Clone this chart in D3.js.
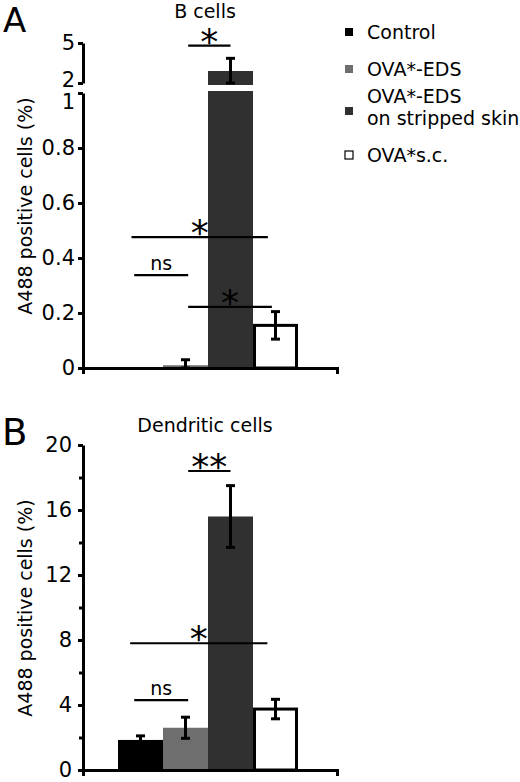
<!DOCTYPE html>
<html>
<head>
<meta charset="utf-8">
<script src="https://cdn.jsdelivr.net/npm/d3@7"></script>
<style>
  body { margin: 0; background: #fff; }
  text { font-family: "DejaVu Sans", Verdana, sans-serif; fill: #000; }
</style>
</head>
<body>
<script>
// groups and colours
var groups = ["Control", "OVA*-EDS", "OVA*-EDS on stripped skin", "OVA*s.c."];
var legendLines = [["Control"], ["OVA*-EDS"], ["OVA*-EDS", "on stripped skin"], ["OVA*s.c."]];
var colors = ["#000000", "#6e6e6e", "#303030", "#ffffff"];

// panel A: B cells (broken axis)
var bMeans = [0, 0.01, 2.9, 0.155];
var bErrs = [0, 0.02, 0.95, 0.05];
var bLowTicks = [0, 0.2, 0.4, 0.6, 0.8, 1];
var bHighTicks = [2, 5];
var bSig = [
    {x0: 1.06, x1: 2.0, y: 4.8, high: true, label: "*"},
    {x0: -0.2, x1: 2.83, y: 0.476, label: "*"},
    {x0: -0.14, x1: 1.06, y: 0.338, label: "ns"},
    {x0: 1.06, x1: 2.92, y: 0.222, label: "*"}
];

// panel B: dendritic cells
var dcMeans = [1.85, 2.6, 15.6, 3.75];
var dcErrs = [0.25, 0.65, 1.9, 0.6];
var dcTicks = [0, 4, 8, 12, 16, 20];
var dcMinorTicks = [2, 6, 10, 14, 18];
var dcSig = [
    {x0: 1.06, x1: 2.0, y: 18.4, label: "**"},
    {x0: -0.23, x1: 2.82, y: 7.8, label: "*"},
    {x0: -0.14, x1: 1.06, y: 4.3, label: "ns"}
];

var svg = d3.select("body").append("svg")
    .attr("width", 520)
    .attr("height", 782);

var axisLeft = 83, axisRight = 337;
var x = d3.scaleBand().domain(groups).range([118, 298]).padding(0);
var xIdx = d3.scaleLinear().domain([-0.5, 3.5]).range([118, 298]);

function styleAxis(g) {
    g.selectAll(".domain").attr("stroke", "#000").attr("stroke-width", 3);
    g.selectAll(".tick line").attr("stroke", "#000").attr("stroke-width", 3);
    g.selectAll(".tick text").style("font-size", "21px").style("font-family", "DejaVu Sans, Verdana, sans-serif");
}

function drawXAxis(y) {
    var g = svg.append("g").attr("transform", "translate(0," + y + ")")
        .call(d3.axisBottom(d3.scaleLinear().range([axisLeft, axisRight])).tickValues([]).tickSizeOuter(6));
    styleAxis(g);
}

function drawErr(cx, top, bottom) {
    var g = svg.append("g").attr("stroke", "#000").attr("stroke-width", 3);
    g.append("line").attr("x1", cx).attr("x2", cx).attr("y1", top).attr("y2", bottom);
    g.append("line").attr("x1", cx - 4.5).attr("x2", cx + 4.5).attr("y1", top).attr("y2", top);
    g.append("line").attr("x1", cx - 4.5).attr("x2", cx + 4.5).attr("y1", bottom).attr("y2", bottom);
}

function drawSig(list, yFor) {
    list.forEach(function(s) {
        var yy = yFor(s);
        svg.append("line")
            .attr("x1", xIdx(s.x0)).attr("x2", xIdx(s.x1))
            .attr("y1", yy).attr("y2", yy)
            .attr("stroke", "#000").attr("stroke-width", 2.2);
        var cx = (xIdx(s.x0) + xIdx(s.x1)) / 2;
        if (s.label == "ns") {
            svg.append("text").attr("x", cx).attr("y", yy - 5)
                .attr("text-anchor", "middle").style("font-size", "19px").text("ns");
        } else {
            svg.append("text").attr("x", cx).attr("y", yy + 8)
                .attr("text-anchor", "middle").style("font-size", "36px").text(s.label);
        }
    });
}

function drawBar(i, top, bottom) {
    var r = svg.append("rect")
        .attr("x", x(groups[i]))
        .attr("width", x.bandwidth())
        .attr("y", top)
        .attr("height", Math.max(0, bottom - top))
        .attr("fill", colors[i]);
    if (colors[i] == "#ffffff") {
        r.attr("x", x(groups[i]) + 1.5).attr("width", x.bandwidth() - 3)
            .attr("stroke", "#000").attr("stroke-width", 3);
    }
}

// ---------- panel A ----------
var yLow = d3.scaleLinear().domain([0, 1]).range([368, 93]);
var yHigh = d3.scaleLinear().domain([2, 5]).range([83, 43]);

svg.append("text").attr("x", 3).attr("y", 32).style("font-size", "34px").text("A");
svg.append("text").attr("x", 205).attr("y", 18).attr("text-anchor", "middle")
    .style("font-size", "19px").text("B cells");

bMeans.forEach(function(v, i) {
    if (v <= 0) return;
    if (v > 1) {
        drawBar(i, yLow(1) - 2, yLow(0));
        drawBar(i, yHigh(v), yHigh(2) + 2);
    } else {
        drawBar(i, yLow(v), yLow(0));
    }
});
bMeans.forEach(function(v, i) {
    if (bErrs[i] <= 0) return;
    var cx = x(groups[i]) + x.bandwidth() / 2;
    if (v > 1) {
        drawErr(cx, yHigh(v + bErrs[i]), yHigh(Math.max(2, v - bErrs[i])));
    } else {
        drawErr(cx, yLow(v + bErrs[i]), yLow(Math.max(0, v - bErrs[i])));
    }
});

var gLow = svg.append("g").attr("transform", "translate(" + axisLeft + ",0)")
    .call(d3.axisLeft(yLow).tickValues(bLowTicks).tickSize(5).tickSizeOuter(0).tickPadding(3).tickFormat(function(d) { return String(d); }));
styleAxis(gLow);
// nudge the "1" label down so it clears the "2" above the break
gLow.selectAll(".tick text").filter(function(d) { return d == 1; }).attr("dy", "15px");
var gHigh = svg.append("g").attr("transform", "translate(" + axisLeft + ",0)")
    .call(d3.axisLeft(yHigh).tickValues(bHighTicks).tickSize(5).tickSizeOuter(0).tickPadding(3).tickFormat(function(d) { return String(d); }));
styleAxis(gHigh);
gHigh.selectAll(".tick text").filter(function(d) { return d == 2; }).attr("dy", "3px");
drawXAxis(368);

drawSig(bSig, function(s) { return s.high ? yHigh(s.y) : yLow(s.y); });

svg.append("text")
    .attr("transform", "translate(25,206) rotate(-90)")
    .attr("text-anchor", "middle").attr("dominant-baseline", "central")
    .style("font-size", "19px").text("A488 positive cells (%)");

// ---------- panel B ----------
var yDc = d3.scaleLinear().domain([0, 20]).range([770, 445]);

svg.append("text").attr("x", 2).attr("y", 445).style("font-size", "37px").text("B");
svg.append("text").attr("x", 205).attr("y", 432).attr("text-anchor", "middle")
    .style("font-size", "19px").text("Dendritic cells");

dcMeans.forEach(function(v, i) {
    drawBar(i, yDc(v), yDc(0));
});
dcMeans.forEach(function(v, i) {
    var cx = x(groups[i]) + x.bandwidth() / 2;
    drawErr(cx, yDc(v + dcErrs[i]), yDc(v - dcErrs[i]));
});

var gDc = svg.append("g").attr("transform", "translate(" + axisLeft + ",0)")
    .call(d3.axisLeft(yDc).tickValues(dcTicks).tickSize(5).tickSizeOuter(0).tickPadding(6));
styleAxis(gDc);
var gMinor = svg.append("g").attr("transform", "translate(" + axisLeft + ",0)")
    .call(d3.axisLeft(yDc).tickValues(dcMinorTicks).tickSize(4).tickFormat(""));
styleAxis(gMinor);
gMinor.select(".domain").remove();
drawXAxis(770);

drawSig(dcSig, function(s) { return yDc(s.y); });

svg.append("text")
    .attr("transform", "translate(25,608) rotate(-90)")
    .attr("text-anchor", "middle").attr("dominant-baseline", "central")
    .style("font-size", "19px").text("A488 positive cells (%)");

// ---------- legend ----------
var legendY = [32, 69, 111, 155];
legendLines.forEach(function(lines, i) {
    var cy = legendY[i];
    svg.append("rect")
        .attr("x", 345).attr("y", cy - 4)
        .attr("width", 8).attr("height", 8)
        .attr("fill", colors[i])
        .attr("stroke", "#000").attr("stroke-width", colors[i] == "#ffffff" ? 1.2 : 0);
    var t = svg.append("text").attr("x", 367).style("font-size", "19px");
    if (lines.length == 1) {
        t.attr("y", cy + 7).text(lines[0]);
    } else {
        t.append("tspan").attr("x", 367).attr("y", cy - 8).text(lines[0]);
        t.append("tspan").attr("x", 367).attr("y", cy + 14).text(lines[1]);
    }
});
</script>
</body>
</html>
